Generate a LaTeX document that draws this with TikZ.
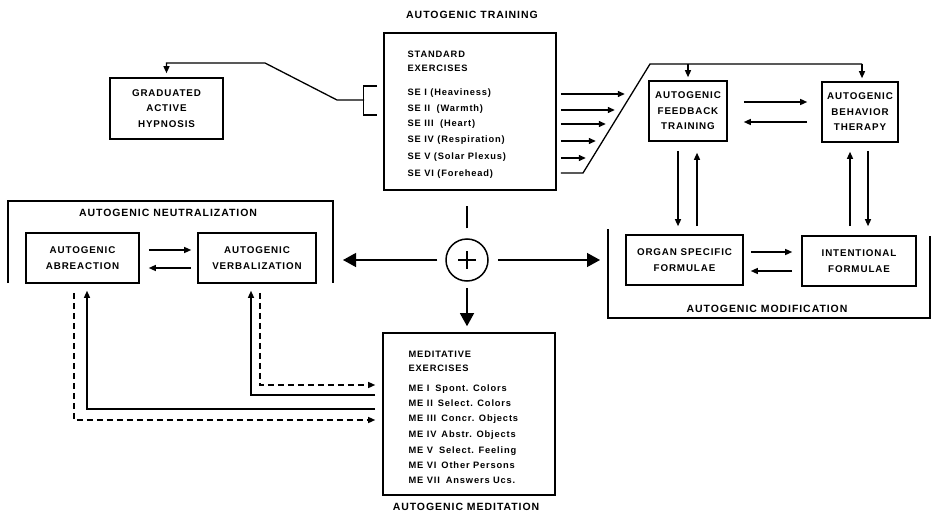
\documentclass[tikz,border=0pt]{standalone}
\usepackage{fontspec}
\setmainfont{Liberation Sans}[LetterSpace=9]
\usetikzlibrary{arrows.meta,calc}
\begin{document}
\begin{tikzpicture}[x=1pt,y=-1pt,line width=1.3pt,
 box/.style={draw,line width=1.6pt,inner sep=0pt,align=center,font=\bfseries\fontsize{9.8}{15.5}\selectfont},
 head/.style={inner sep=0pt,font=\bfseries\fontsize{10.5}{12}\selectfont},
 lst/.style={inner sep=0pt,anchor=west,text height=7pt,text depth=0pt,font=\bfseries\fontsize{9.3}{10}\selectfont},
 arr/.style={-{Triangle[length=7pt,width=6pt]}},
 big/.style={-{Triangle[length=13pt,width=14pt]}},
 frm/.style={line width=1.5pt},
 dsh/.style={dash pattern=on 6pt off 4pt}]
\useasboundingbox (0,0) rectangle (933,513);

% ---------- headings ----------
\node[head] (hTrain) at (472,15) {AUTOGENIC TRAINING};
\node[head] (hNeut) at (168,213) {AUTOGENIC NEUTRALIZATION};
\node[head] (hMod) at (767,309) {AUTOGENIC MODIFICATION};
\node[head] (hMed) at (466,507) {AUTOGENIC MEDITATION};

% ---------- standard exercises ----------
\node[box,minimum width=172,minimum height=157] (se) at (470,111.5) {};
\node[lst] (seT1) at (407,54) {STANDARD};
\node[lst] (seT2) at (407,68) {EXERCISES};
\node[lst] (se1) at (407,92) {SE I (Heaviness)};
\node[lst] (se2) at (407,108) {SE II\hspace{3pt} (Warmth)};
\node[lst] (se3) at (407,123) {SE III\hspace{3pt} (Heart)};
\node[lst] (se4) at (407,139) {SE IV (Respiration)};
\node[lst] (se5) at (407,156) {SE V (Solar Plexus)};
\node[lst] (se6) at (407,173) {SE VI (Forehead)};

% ---------- other boxes ----------
\node[box,minimum width=113,minimum height=61] (gah) at (166.5,108.5) {GRADUATED\\ACTIVE\\HYPNOSIS};
\node[box,minimum width=78,minimum height=60] (fb) at (688,111) {AUTOGENIC\\FEEDBACK\\TRAINING};
\node[box,minimum width=76,minimum height=60] (bt) at (860,112) {AUTOGENIC\\BEHAVIOR\\THERAPY};
\node[box,minimum width=113,minimum height=50] (ab) at (82.5,258) {AUTOGENIC\\ABREACTION};
\node[box,minimum width=118,minimum height=50] (vb) at (257,258) {AUTOGENIC\\VERBALIZATION};
\node[box,minimum width=117,minimum height=50] (osf) at (684.5,260) {ORGAN SPECIFIC\\FORMULAE};
\node[box,minimum width=114,minimum height=50] (inf) at (859,261) {INTENTIONAL\\FORMULAE};

% ---------- meditative exercises ----------
\node[box,minimum width=172,minimum height=162] (med) at (469,414) {};
\node[lst] (meT1) at (408,354) {MEDITATIVE};
\node[lst] (meT2) at (408,367.5) {EXERCISES};
\node[lst] (me1) at (408,388) {ME I\hspace{6pt}Spont. Colors};
\node[lst] (me2) at (408,403) {ME II\hspace{5pt}Select. Colors};
\node[lst] (me3) at (408,418) {ME III\hspace{5pt}Concr. Objects};
\node[lst] (me4) at (408,434) {ME IV\hspace{5pt}Abstr. Objects};
\node[lst] (me5) at (408,450) {ME V\hspace{6pt}Select. Feeling};
\node[lst] (me6) at (408,465) {ME VI\hspace{5pt}Other Persons};
\node[lst] (me7) at (408,480) {ME VII\hspace{6pt}Answers Ucs.};

% ---------- group frames ----------
\draw[frm] (8,283) -- (8,201) -- (333,201) -- (333,283);
\draw[frm] (608,229) -- (608,318) -- (930,318) -- (930,236);
\coordinate (nfR) at (333,260);
\coordinate (mfL) at (608,260);

% ---------- plus ----------
\node[circle,draw,line width=1.5pt,minimum size=42,inner sep=0pt] (plus) at (467,260) {};
\draw[line width=1.3pt] (plus.center) ++(-9,0) -- ++(18,0);
\draw[line width=1.3pt] (plus.center) ++(0,-9) -- ++(0,18);
\draw (plus.north) ++(0,-10) -- ++(0,-22);
\draw[big] (plus.west) ++(-8,0) -- ($(nfR)+(10,0)$);
\draw[big] (plus.east) ++(9,0) -- ($(mfL)+(-8,0)$);
\draw[big] (plus.south) ++(0,6) -- ($(plus.south |- med.north)+(0,-6)$);

% ---------- bracket to graduated active hypnosis ----------
\draw (se.west) ++(-6,-25.5) -- ++(-14,0) -- ++(0,29) -- ++(14,0);
\coordinate (br) at (364,100);
\coordinate (g0) at (337,100);
\coordinate (g1) at (265,63);
\draw[arr] (br) -- (g0) -- (g1) -- (g1 -| gah.north) -- ($(gah.north)+(0,-4)$);

% ---------- SE arrows and diagonal ----------
\draw[arr] (se.east) ++(4,-17.5) -- ++(64,0);
\draw[arr] (se.east) ++(4,-1.5) -- ++(54,0);
\draw[arr] (se.east) ++(4,12.5) -- ++(45,0);
\draw[arr] (se.east) ++(4,29.5) -- ++(35,0);
\draw[arr] (se.east) ++(4,46.5) -- ++(25,0);
\coordinate (d1) at (583,173);
\coordinate (d2) at (650,64);
\coordinate (d3) at (862,64);
\draw (se.east) ++(4,61.5) -- (d1) -- (d2) -- (d3);
\draw[arr] (fb.north |- d2) -- ($(fb.north)+(0,-3)$);
\draw[arr] (d3) -- ($(bt.north)+(2,-3)$);

% ---------- feedback / behavior ----------
\draw[arr] ($(fb.east)+(16,-9)$) -- ($(bt.west)+(-14,-10)$);
\draw[arr] ($(bt.west)+(-14,10)$) -- ($(fb.east)+(16,11)$);
\draw[arr] ($(fb.south)+(-10,9)$) -- ($(osf.north)+(-6.5,-8)$);
\draw[arr] ($(osf.north)+(12.5,-8)$) -- ($(fb.south)+(9,11)$);
\draw[arr] ($(inf.north)+(-9,-9)$) -- ($(bt.south)+(-10,9)$);
\draw[arr] ($(bt.south)+(8,8)$) -- ($(inf.north)+(9,-9)$);

% ---------- organ / intentional ----------
\draw[arr] ($(osf.east)+(7,-8)$) -- ($(inf.west)+(-9,-9)$);
\draw[arr] ($(inf.west)+(-9,10)$) -- ($(osf.east)+(7,11)$);

% ---------- abreaction / verbalization ----------
\draw[arr] ($(ab.east)+(9,-8)$) -- ($(vb.west)+(-6,-8)$);
\draw[arr] ($(vb.west)+(-6,10)$) -- ($(ab.east)+(9,10)$);

% ---------- links to meditation ----------
\draw[arr,dsh] ($(ab.south)+(-8.5,9)$) |- ($(med.west)+(-7,6)$);
\draw[arr] ($(med.west)+(-7,-5)$) -| ($(ab.south)+(4.5,7)$);
\draw[arr] ($(med.west)+(-7,-19)$) -| ($(vb.south)+(-6,7)$);
\draw[arr,dsh] ($(vb.south)+(3,9)$) |- ($(med.west)+(-7,-29)$);
\end{tikzpicture}
\end{document}
